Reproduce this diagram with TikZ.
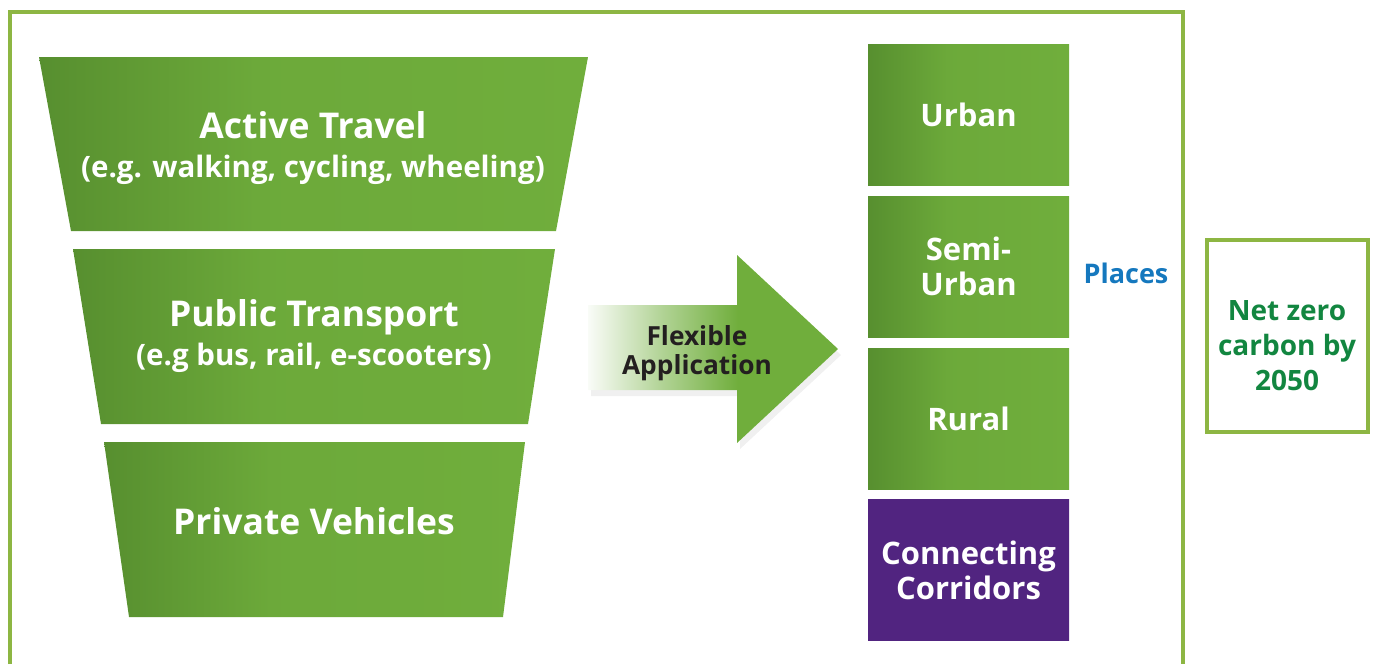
\documentclass[tikz,border=0pt]{standalone}
\usepackage{fontspec}
\setmainfont{Open Sans}
\usetikzlibrary{shadows}
\definecolor{bandL}{RGB}{87,143,47}
\definecolor{bandR}{RGB}{112,174,60}
\definecolor{framegreen}{RGB}{141,182,67}
\definecolor{corridor}{RGB}{81,36,128}
\definecolor{placeblue}{RGB}{21,120,190}
\definecolor{zerogreen}{RGB}{18,134,64}
\definecolor{inkdark}{RGB}{35,31,32}
\pgfdeclarehorizontalshading{bandshade}{100bp}{color(0bp)=(bandL); color(25bp)=(bandL);
  color(45bp)=(bandR!85!bandL); color(75bp)=(bandR); color(100bp)=(bandR)}
\pgfdeclarehorizontalshading{flexshade}{100bp}{color(0bp)=(white); color(25bp)=(bandR!4);
  color(40bp)=(bandR!55); color(55bp)=(bandR); color(100bp)=(bandR)}
\newcommand\subsize{\fontsize{29.5}{39}\selectfont}
\begin{document}
\begin{tikzpicture}[x=1pt,y=-1pt,
  band/.style={shading=bandshade},
  bandtext/.style={text=white,align=center,font=\bfseries\fontsize{35.5}{39}\selectfont},
  placebox/.style={minimum width=201pt,minimum height=141pt,inner sep=0pt,text=white,align=center,
    shading=bandshade,font=\bfseries\fontsize{31}{35}\selectfont},
  flexarrow/.style={shading=flexshade,
    drop shadow={opacity=.12,shadow xshift=3pt,shadow yshift=-6pt}}]
  \useasboundingbox (0,0) rectangle (1375,664);
  % outer frame, open at the bottom
  \draw[framegreen,line width=4pt] (10,664) -- (10,12) -- (1183,12) -- (1183,664);

  % funnel
  \shade[band] (39,57) -- (588,57) -- (556,231) -- (71,231) -- cycle;
  \shade[band] (73,249) -- (555,249) -- (528,424) -- (101,424) -- cycle;
  \shade[band] (104,442) -- (525,442) -- (503,617) -- (129,617) -- cycle;
  \node[bandtext] (active) at (313,148) {Active Travel\\{\subsize (e.g. walking, cycling, wheeling)}};
  \node[bandtext] (public) at (314,336) {Public Transport\\{\subsize (e.g bus, rail, e-scooters)}};
  \node[bandtext] (private) at (314,521) {Private Vehicles};

  % arrow
  \shade[flexarrow] (588,305) -- (737,305) -- (737,255) -- (838,349) -- (737,443) -- (737,390) -- (588,390) -- cycle;
  \node[align=center,text=inkdark,font=\bfseries\fontsize{26.3}{29}\selectfont] (flex) at (697,353) {Flexible\\Application};

  % places
  \node[placebox] (urban) at (968.5,114.5) {Urban};
  \node[placebox] (semi) at (968.5,266.5) {Semi-\\Urban};
  \node[placebox] (rural) at (968.5,418.5) {Rural};
  \node[placebox,shading=axis,left color=corridor,right color=corridor] (corr) at (968.5,570) {Connecting\\Corridors};
  \node[text=placeblue,font=\bfseries\fontsize{27}{32}\selectfont] (places) at (1126,273) {Places};

  \node[draw=framegreen,line width=4pt,minimum width=161pt,minimum height=192pt] (zerobox) at (1287,335.5) {};
  \node[text=zerogreen,align=center,font=\bfseries\fontsize{28}{35}\selectfont] (zero) at ([yshift=-10pt]zerobox.center) {Net zero\\carbon by\\2050};
\end{tikzpicture}
\end{document}
